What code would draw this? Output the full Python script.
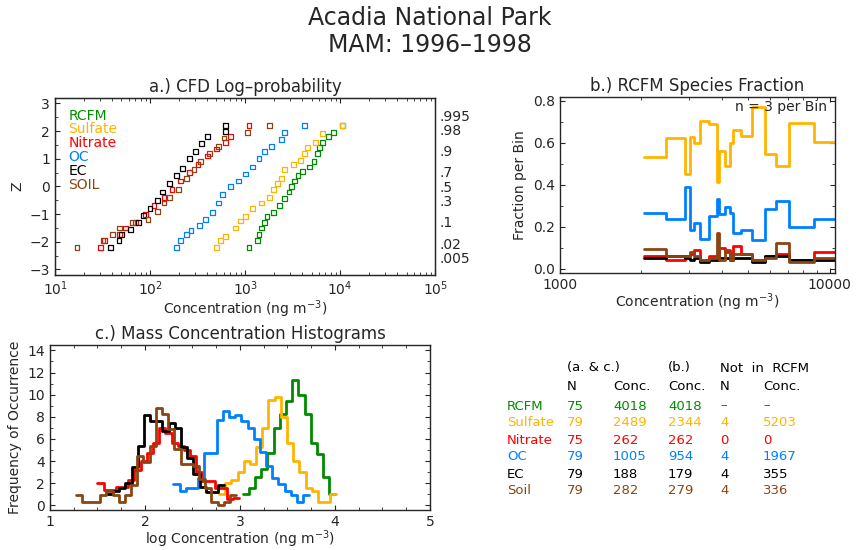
import numpy as np, pandas as pd, matplotlib
matplotlib.use("Agg")
import matplotlib.pyplot as plt, seaborn as sns
from matplotlib.ticker import FixedLocator, NullFormatter

sns.set_style("ticks")
plt.rcParams['font.family'] = ['DejaVu Sans']

species = ["RCFM", "Sulfate", "Nitrate", "OC", "EC", "SOIL"]
colors = {"RCFM": "#008c00", "Sulfate": "#ffb400", "Nitrate": "#ff0000",
          "OC": "#0080ff", "EC": "#000000", "SOIL": "#8b4513"}

# Panel a: (concentration, Z)
rcfm_c = [1100,1350,1400,1500,1600,1700,2000,2300,2600,2900,3100,3300,3600,4000,4800,5300,5800,6100,6500,7500,8500,10500]
rcfm_z = [-2.2,-1.95,-1.75,-1.5,-1.3,-1.1,-0.95,-0.7,-0.45,-0.2,0,0.2,0.4,0.55,0.7,0.9,1.2,1.4,1.6,1.8,1.95,2.2]
sulf_c = [500,550,620,800,900,1000,1200,1500,1800,2000,2200,2400,2600,3200,3800,4200,4500,5500,6500,10500]
sulf_z = [-2.2,-1.95,-1.8,-1.5,-1.25,-1.1,-0.8,-0.6,-0.4,-0.1,0.1,0.3,0.6,0.8,0.95,1.2,1.4,1.6,1.9,2.2]
oc_c = [190,210,240,270,330,380,450,520,580,700,850,1000,1200,1400,1600,1900,2400,2600,4200]
oc_z = [-2.2,-1.95,-1.75,-1.6,-1.4,-1.2,-0.95,-0.6,-0.3,0,0.2,0.45,0.7,1.0,1.25,1.45,1.7,1.95,2.2]
ec_c = [38,47,50,62,75,85,100,120,135,160,190,220,260,300,350,400,620,620]
ec_z = [-2.2,-1.95,-1.75,-1.55,-1.3,-1.05,-0.8,-0.5,-0.2,0.1,0.4,0.65,1.0,1.25,1.55,1.8,2.0,2.2]
no3_c = [30,33,48,55,70,90,110,140,170,210,260,320,400,500,620,700,1100]
no3_z = [-2.2,-1.95,-1.75,-1.5,-1.3,-1.0,-0.7,-0.4,-0.1,0.2,0.5,0.8,1.1,1.35,1.6,1.8,2.2]
soil_c = [17,32,40,48,65,95,120,140,160,200,240,290,340,420,520,600,1050,1800]
soil_z = [-2.2,-1.95,-1.75,-1.5,-1.3,-1.2,-0.9,-0.6,-0.4,-0.1,0.3,0.6,0.9,1.2,1.45,1.75,1.95,2.2]
cfd = {"RCFM": (rcfm_c, rcfm_z), "Sulfate": (sulf_c, sulf_z), "Nitrate": (no3_c, no3_z),
       "OC": (oc_c, oc_z), "EC": (ec_c, ec_z), "SOIL": (soil_c, soil_z)}
prob_labels = [".995", ".98", ".9", ".7", ".5", ".3", ".1", ".02", ".005"]
prob_z = [2.576, 2.054, 1.2816, 0.524, 0.0, -0.524, -1.2816, -2.054, -2.576]

# Panel b: step bins
b_edges = [2050,2470,2920,3050,3150,3320,3570,3810,3890,4100,4260,4380,4700,5150,5740,6320,7050,8790,10480]
b_sulf = [0.535,0.625,0.45,0.63,0.60,0.705,0.69,0.415,0.56,0.49,0.60,0.66,0.635,0.77,0.545,0.49,0.695,0.605]
b_oc   = [0.265,0.235,0.39,0.185,0.22,0.14,0.25,0.33,0.26,0.295,0.265,0.17,0.185,0.135,0.285,0.325,0.20,0.235]
b_no3  = [0.06,0.04,0.06,0.07,0.09,0.04,0.06,0.05,0.10,0.08,0.06,0.11,0.07,0.04,0.06,0.07,0.04,0.08]
b_ec   = [0.05,0.06,0.05,0.04,0.05,0.03,0.04,0.04,0.05,0.05,0.04,0.05,0.05,0.03,0.06,0.06,0.04,0.04]
b_soil = [0.095,0.06,0.06,0.08,0.06,0.04,0.05,0.17,0.04,0.09,0.04,0.07,0.07,0.04,0.05,0.12,0.03,0.05]
b_series = {"Sulfate": b_sulf, "OC": b_oc, "Nitrate": b_no3, "EC": b_ec, "SOIL": b_soil}

# Panel c: histograms (start, width, counts)
h_width = 0.065
h_start = {"RCFM": 3.03, "Sulfate": 2.78, "OC": 2.3, "EC": 1.6, "Nitrate": 1.5, "SOIL": 1.27}
h_counts = {
    "RCFM": [1,1.6,2.6,3.3,4.7,7,8.3,9.4,11.3,10,8.3,5.6,4.6,2.6,1.0],
    "Sulfate": [1,2,2.3,3,4,3.7,5.3,7,9.5,9.8,8,5.6,4,3,1.6,1.3,0.3,0.3,1],
    "OC": [1.9,1.3,1.6,1.6,2.5,4.7,4.7,7.7,8.5,8,8.2,7.6,7,6,4.8,3.6,2.5,1.9,1.3,0.9,0.3,0.9],
    "EC": [1,1.3,1.6,2,3.5,5.4,8.2,7.6,7.6,6.7,7.4,7,5.3,4.3,2.8,1.7,1.2,1.2,1.8],
    "Nitrate": [2,1.4,1.4,1.7,1.7,2.3,3.2,4,4.7,5.6,7,6.5,5.6,5.4,5,4.5,3,2.2,2.2,1.6,1.6,0.6,0.7],
    "SOIL": [0.9,0.3,0.3,0.3,0.9,1.3,0.9,0.3,0.9,1.8,4.5,3.9,5.4,8.8,8.3,6.9,5.1,3.7,3.7,3.6,2.4,1.6,0.3,0,0.3,0.9],
}

# Table
t_names = ["RCFM", "Sulfate", "Nitrate", "OC", "EC", "Soil"]
t_n = ["75", "79", "75", "79", "79", "79"]
t_conc = ["4018", "2489", "262", "1005", "188", "282"]
t_bconc = ["4018", "2344", "262", "954", "179", "279"]
t_notn = ["\u2013", "4", "0", "4", "4", "4"]
t_notc = ["\u2013", "5203", "0", "1967", "355", "336"]

fig = plt.figure(figsize=(8.6, 5.5), dpi=100)
fig.text(0.5, 0.955, "Acadia National Park", ha="center", fontsize=17)
fig.text(0.5, 0.905, "MAM: 1996\u20131998", ha="center", fontsize=17)

def style(ax):
    ax.tick_params(which="both", direction="in", top=True, right=True, labelsize=10)
    for s in ax.spines.values():
        s.set_linewidth(1)

# a
ax = fig.add_axes([0.064, 0.5, 0.442, 0.322])
rows = []
for sp in species:
    c, z = cfd[sp]
    rows += [dict(sp=sp, c=ci, z=zi) for ci, zi in zip(c, z)]
dfa = pd.DataFrame(rows)
for sp in species:
    d = dfa[dfa.sp == sp]
    ax.scatter(d.c, d.z, marker="s", s=12, facecolors="none", edgecolors=colors[sp], linewidths=0.9)
ax.set_xscale("log")
ax.set_xlim(10, 1e5); ax.set_ylim(-3.2, 3.2)
ax.set_yticks(range(-3, 4))
ax.yaxis.set_minor_locator(FixedLocator(np.arange(-3, 3.01, 0.5)))
style(ax)
ax.tick_params(axis="y", which="both", right=False)
ax2 = ax.twinx(); ax2.set_ylim(ax.get_ylim())
ax2.set_yticks(prob_z); ax2.set_yticklabels(prob_labels)
ax2.tick_params(direction="in", length=0, labelsize=10, pad=3)
ax.set_title("a.) CFD Log\u2013probability", fontsize=12, pad=4)
ax.set_xlabel("Concentration (ng m$^{-3}$)", fontsize=10, labelpad=0)
ax.set_ylabel("Z", fontsize=10)
for i, sp in enumerate(species):
    ax.text(0.035, 0.9 - i * 0.078, sp, transform=ax.transAxes, color=colors[sp], fontsize=10, va="center")

# b
bx = fig.add_axes([0.651, 0.504, 0.32, 0.32])
for sp in ["Sulfate", "OC", "Nitrate", "EC", "SOIL"]:
    v = b_series[sp]
    d = pd.DataFrame({"x": b_edges, "y": v + [v[-1]]})
    sns.lineplot(data=d, x="x", y="y", ax=bx, color=colors[sp], drawstyle="steps-post", linewidth=2)
bx.set_xscale("log")
bx.set_xlim(1000, 10480); bx.set_ylim(-0.02, 0.82)
bx.set_xticks([1000, 10000]); bx.set_xticklabels(["1000", "10000"])
bx.xaxis.set_minor_formatter(NullFormatter())
bx.set_yticks([0, 0.2, 0.4, 0.6, 0.8])
bx.yaxis.set_minor_locator(FixedLocator(np.arange(0, 0.81, 0.1)))
style(bx)
bx.set_title("b.) RCFM Species Fraction", fontsize=12, pad=4)
bx.set_xlabel("Concentration (ng m$^{-3}$)", fontsize=10, labelpad=0)
bx.set_ylabel("Fraction per Bin", fontsize=10)
bx.text(0.97, 0.94, "n = 3 per Bin", transform=bx.transAxes, ha="right", va="center", fontsize=10)

# c
cx = fig.add_axes([0.058, 0.073, 0.442, 0.3])
for sp in species:
    cnt = h_counts[sp]
    edges = [h_start[sp] + i * h_width for i in range(len(cnt) + 1)]
    d = pd.DataFrame({"x": edges, "y": cnt + [cnt[-1]]})
    sns.lineplot(data=d, x="x", y="y", ax=cx, color=colors[sp], drawstyle="steps-post", linewidth=2)
cx.set_xlim(1, 5); cx.set_ylim(-0.4, 14.5)
cx.set_xticks([1, 2, 3, 4, 5])
cx.set_yticks(range(0, 15, 2))
cx.xaxis.set_minor_locator(FixedLocator(np.arange(1, 5.01, 0.25)))
cx.yaxis.set_minor_locator(FixedLocator(range(0, 15)))
style(cx)
cx.set_title("c.) Mass Concentration Histograms", fontsize=12, pad=4)
cx.set_xlabel("log Concentration (ng m$^{-3}$)", fontsize=10, labelpad=0)
cx.set_ylabel("Frequency of Occurrence", fontsize=10)

# table
def ft(x, y, s, c="black"):
    fig.text(x / 860, 1 - y / 550, s, color=c, fontsize=9.5, va="center")
ft(567, 368, "(a. & c.)"); ft(668, 368, "(b.)"); ft(720, 368, "Not  in  RCFM")
ft(567, 386, "N"); ft(613, 386, "Conc."); ft(668, 386, "Conc."); ft(720, 386, "N"); ft(763, 386, "Conc.")
tcols = [colors[s] for s in species]
for i in range(6):
    y = 406 + i * 17
    for x, vals in [(507, t_names), (567, t_n), (613, t_conc), (668, t_bconc), (720, t_notn), (763, t_notc)]:
        ft(x, y, vals[i], tcols[i])

fig.savefig("out.png", dpi=100)
